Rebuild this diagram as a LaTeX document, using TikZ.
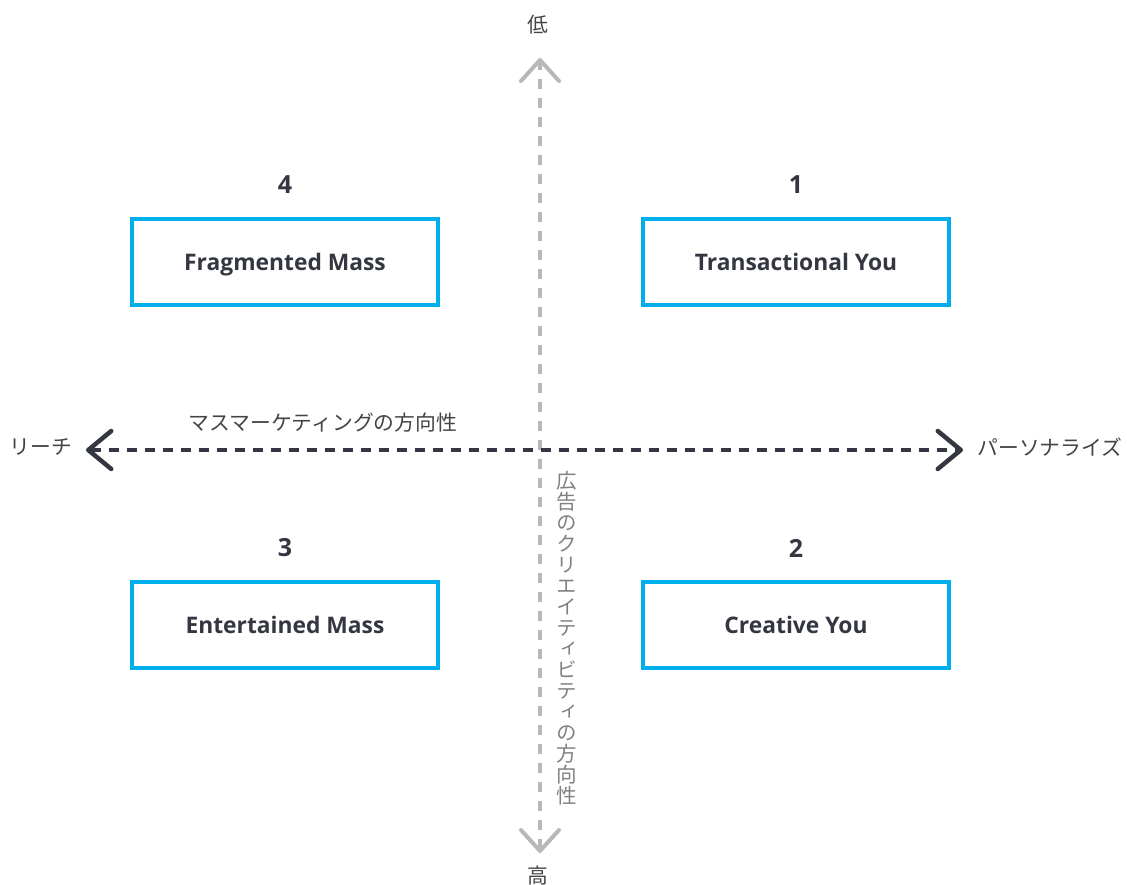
\documentclass[tikz,border=0pt]{standalone}
\usepackage{fontspec}
\setmainfont{Open Sans}
\newfontfamily\jpfont{Noto Sans CJK JP}
\newfontfamily\jpvfont[RawFeature=+vert]{Noto Sans CJK JP}
\usetikzlibrary{arrows.meta}

\definecolor{boxblue}{HTML}{00AEEA}
\definecolor{inkdark}{HTML}{343741}
\definecolor{axisgrey}{HTML}{B8B8B8}
\definecolor{labelgrey}{HTML}{444444}
\definecolor{vertgrey}{HTML}{808080}

\tikzset{
  quadbox/.style={draw=boxblue, line width=4pt, minimum width=306pt, minimum height=86pt,
    inner sep=0pt, text height=16.3pt, text depth=0pt, text=inkdark,
    font=\fontsize{22.8}{27}\selectfont\bfseries},
  quadnum/.style={text=inkdark, font=\fontsize{25}{30}\selectfont\bfseries},
  axislabel/.style={text=labelgrey, font=\jpfont\fontsize{20.8}{24}\selectfont},
  vchevron/.tip={Straight Barb[length=21pt, width=38pt, line cap=round, line join=round]},
  hchevron/.tip={Straight Barb[length=23pt, width=38pt, line cap=round, line join=round]}
}

\begin{document}
\begin{tikzpicture}[x=1pt,y=-1pt]
      \useasboundingbox (0,0) rectangle (1127,885);

      % axis ends
      \coordinate (top) at (540,58);
      \coordinate (bottom) at (540,853);
      \coordinate (left) at (86,450);
      \coordinate (right) at (963,450);

      \draw[axisgrey, line width=4pt, dash pattern=on 10pt off 9pt,
            vchevron-vchevron] (bottom) -- (top);
      \draw[inkdark, line width=4.5pt, dash pattern=on 10pt off 8pt,
            hchevron-hchevron] (left) -- (right);

	\node[axislabel] (low) at (538,25) {低};
	\node[axislabel] (high) at (538,876) {高};
	\node[axislabel] (reach) at (41,447) {リーチ};
	\node[axislabel] (personal) at (1050,447) {パーソナライズ};
	\node[axislabel] (mass) at (323,423) {マスマーケティングの方向性};
	\node[text=vertgrey, font=\jpvfont\fontsize{20.5}{21}\selectfont, align=center,
	      inner sep=0pt] (creative) at (567,638)
	      {広\\告\\の\\ク\\リ\\エ\\イ\\テ\\ィ\\ビ\\テ\\ィ\\の\\方\\向\\性};

	% quadrants
	\foreach \x/\y/\n/\t in {796/262/1/Transactional You, 796/625/2/Creative You,
	                         285/625/3/Entertained Mass, 285/262/4/Fragmented Mass}{
	   \node[quadbox] (box\n) at (\x,\y) {\t};
	   \node[quadnum] (num\n) at (\x,\y-77) {\n};
	}
\end{tikzpicture}
\end{document}
